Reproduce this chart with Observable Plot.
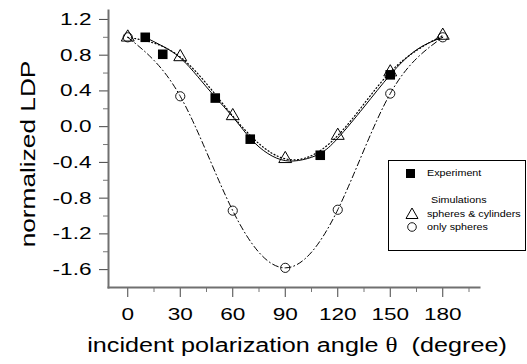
<!DOCTYPE html>
<html>
<head>
<meta charset="utf-8">
<script src="https://cdn.jsdelivr.net/npm/d3@7"></script>
<script src="https://cdn.jsdelivr.net/npm/@observablehq/plot@0.6"></script>
<style>
  html, body { margin: 0; padding: 0; background: #fff; }
  #wrap { position: relative; width: 527px; height: 364px; font-family: "Liberation Sans", Arial, sans-serif; }
  #legend { position: absolute; left: 388px; top: 160px; width: 138px; height: 91px; border: 1px solid #000; background: #fff; font-size: 8.6px; color: #000; box-sizing: border-box; }
  #legend .row { position: absolute; left: 0; white-space: nowrap; line-height: 12px; transform: scaleX(1.25); transform-origin: 0 50%; }
  #legend svg { position: absolute; left: 16px; }
</style>
</head>
<body>
<div id="wrap"></div>
<script>
// Experiment (filled squares)
const expAngle = [10, 20, 50, 70, 110, 150];
const expLDP = [1.0, 0.81, 0.32, -0.14, -0.32, 0.58];
// Fit through experiment (solid line)
const fitAngle = [10, 20, 30, 40, 50, 60, 70, 80, 90, 100, 110, 120, 135, 150, 165, 180];
const fitLDP = [1.0, 0.9, 0.77, 0.56, 0.33, 0.11, -0.13, -0.30, -0.38, -0.37, -0.30, -0.13, 0.22, 0.58, 0.86, 1.0];
// Simulations
const simAngle = [0, 30, 60, 90, 120, 150, 180];
const cylLDP = [1.0, 0.78, 0.12, -0.36, -0.10, 0.61, 1.02];   // spheres & cylinders (triangles, dotted)
const sphLDP = [1.0, 0.34, -0.94, -1.58, -0.93, 0.37, 1.0];   // only spheres (circles, dash-dot)
// Ticks
const xTicks = [0, 30, 60, 90, 120, 150, 180];
const xMinor = [15, 45, 75, 105, 135, 165, 195];
const yTicks = [-1.6, -1.2, -0.8, -0.4, 0.0, 0.4, 0.8, 1.2];
const yMinor = [-1.4, -1.0, -0.6, -0.2, 0.2, 0.6, 1.0];
const xTitle = "incident polarization angle θ  (degree)";
const yTitle = "normalized LDP";

const exp = expAngle.map((a, i) => ({a, v: expLDP[i]}));
const fit = fitAngle.map((a, i) => ({a, v: fitLDP[i]}));
const cyl = simAngle.map((a, i) => ({a, v: cylLDP[i]}));
const sph = simAngle.map((a, i) => ({a, v: sphLDP[i]}));

const fmt = d => (Math.abs(d) < 1e-9 ? 0 : d).toFixed(1);

const chart = Plot.plot({
  width: 527,
  height: 364,
  marginLeft: 108,
  marginRight: 48,
  marginTop: 10,
  marginBottom: 77,
  style: {fontFamily: '"Liberation Sans", Arial, sans-serif', background: "#fff", color: "#000"},
  x: {domain: [-11, 201]},
  y: {domain: [-1.8, 1.3]},
  marks: [
    Plot.axisY({ticks: yMinor, tickSize: 5, text: null, stroke: "#777", label: null}),
    Plot.axisY({ticks: yTicks, tickSize: 9, tickPadding: 8, tickFormat: fmt, fontSize: 17, stroke: "#444", fill: "#000", label: null}),
    Plot.axisX({ticks: xMinor, tickSize: 5, text: null, stroke: "#777", label: null}),
    Plot.axisX({ticks: xTicks, tickSize: 10, tickPadding: 10, fontSize: 17, stroke: "#444", fill: "#000", label: null}),
    Plot.frame({anchor: "left", stroke: "#707070", strokeWidth: 2}),
    Plot.frame({anchor: "bottom", stroke: "#707070", strokeWidth: 2}),
    Plot.text([yTitle], {frameAnchor: "left", textAnchor: "middle", dx: -80, dy: 5, rotate: -90, fontSize: 21, fill: "#000"}),
    Plot.text([xTitle], {frameAnchor: "bottom", textAnchor: "middle", dy: 64, dx: 3, fontSize: 21, fill: "#000"}),
    Plot.line(fit, {x: "a", y: "v", curve: "natural", stroke: "#000", strokeWidth: 1}),
    Plot.line(cyl, {x: "a", y: "v", curve: "natural", stroke: "#000", strokeWidth: 1.2, strokeDasharray: "1,2.5"}),
    Plot.line(sph, {x: "a", y: "v", curve: "natural", stroke: "#000", strokeWidth: 1, strokeDasharray: "6,3,1,3"}),
    Plot.dot(exp, {x: "a", y: "v", symbol: "square", r: 5.4, fill: "#000", stroke: "none"}),
    Plot.dot(cyl, {x: "a", y: "v", symbol: "triangle", r: 4.8, fill: "none", stroke: "#000", strokeWidth: 1}),
    Plot.dot(sph, {x: "a", y: "v", symbol: "circle", r: 4.6, fill: "none", stroke: "#000", strokeWidth: 0.9})
  ]
});

// stretch text along its reading direction (the reference uses a wide sans face)
function stretchText(t, s) {
  const tr = t.getAttribute("transform");
  if (tr) {
    t.setAttribute("transform", `${tr} scale(${s},1)`);
  } else {
    const x = +t.getAttribute("x") || 0, y = +t.getAttribute("y") || 0;
    t.setAttribute("transform", `translate(${x},${y}) scale(${s},1) translate(${-x},${-y})`);
  }
}
chart.querySelectorAll("text").forEach(t => {
  const s = t.textContent;
  if (/^-?\d+(\.\d)?$/.test(s.replace("−", "-"))) stretchText(t, 1.33);
  else if (s === yTitle) stretchText(t, 1.25);
  else if (s === xTitle) {
    stretchText(t, 1.2);
    t.setAttribute("xml:space", "preserve");
    t.innerHTML = 'incident polarization angle <tspan font-family="Liberation Serif, DejaVu Serif, serif">θ</tspan>  (degree)';
  }
});

const wrap = document.getElementById("wrap");
wrap.appendChild(chart);

const legend = document.createElement("div");
legend.id = "legend";
legend.innerHTML = `
  <svg width="12" height="12" style="top:7px"><rect x="1" y="1" width="9" height="9" fill="#000"/></svg>
  <div class="row" style="left:38px; top:6px">Experiment</div>
  <div class="row" style="left:42px; top:33px">Simulations</div>
  <svg width="14" height="13" style="top:46px;left:16px"><path d="M7,1 L13,11.5 L1,11.5 Z" fill="none" stroke="#000" stroke-width="1"/></svg>
  <div class="row" style="left:38px; top:47px">spheres &amp; cylinders</div>
  <svg width="12" height="12" style="top:60px;left:17px"><circle cx="6" cy="6" r="4.3" fill="none" stroke="#000" stroke-width="0.9"/></svg>
  <div class="row" style="left:38px; top:60px">only spheres</div>
`;
wrap.appendChild(legend);
</script>
</body>
</html>
